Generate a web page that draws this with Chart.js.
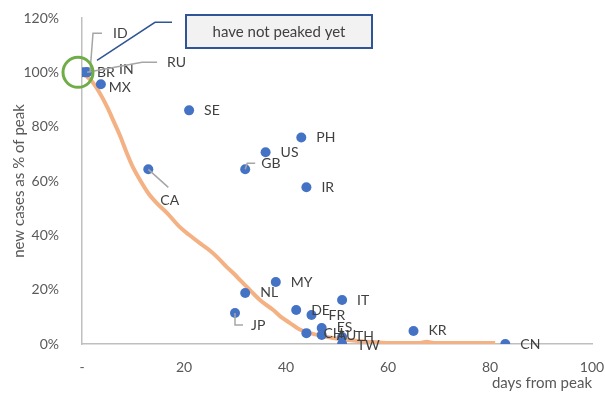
<!DOCTYPE html>
<html>
<head>
<meta charset="utf-8">
<script src="https://cdn.jsdelivr.net/npm/chart.js@4"></script>
<style>
  html, body { margin: 0; background: #fff; }
  #wrap { width: 605px; height: 394px; }
</style>
</head>
<body>
<div id="wrap"><canvas id="chart" width="605" height="394"></canvas></div>
<script>
// country points
const countries = ['ID', 'BR', 'IN', 'RU', 'MX', 'SE', 'PH', 'US', 'GB', 'IR', 'CA', 'MY', 'NL', 'JP', 'IT', 'DE', 'FR', 'ES', 'CH', 'AU', 'TH', 'TW', 'KR', 'CN'];
const daysFromPeak = [0, 0.6, 1, 1, 3.7, 21, 43, 36, 32, 44, 13, 38, 32, 30, 51, 42, 45, 47, 44, 47, 51, 51, 65, 83];
const pctOfPeak = [100, 100, 100, 100, 95.6, 86, 76, 70.6, 64.3, 57.7, 64.3, 22.8, 18.8, 11.4, 16.2, 12.5, 10.7, 5.9, 4, 3.3, 2.6, 0, 4.8, 0];

// average curve
const trendDays = [0, 2, 3.5, 5, 6.1, 7.5, 8.8, 10, 11.4, 13, 14.7, 16.7, 19.2, 21, 23.1, 25, 26.5, 28.4, 30, 31, 32.9, 35, 37.5, 39, 40.8, 42.5, 44.7, 47, 49.2, 52, 54.5, 57, 59.8, 63, 66, 67.6, 69, 72, 76, 81];
const trendPct = [100, 96.5, 92.3, 87, 82.4, 76.5, 70.2, 65, 60.3, 55.5, 51.8, 48.2, 43, 40.2, 37.1, 34.5, 32, 28.3, 25.5, 23.5, 19.9, 16, 12.5, 10, 7.7, 5.5, 4, 3, 2.2, 1.5, 1.1, 0.7, 0.4, 0.4, 0.4, 0.8, 0.4, 0.4, 0.4, 0.4];

// axis ticks
const xTicks = [0, 20, 40, 60, 80, 100];
const yTicks = [0, 20, 40, 60, 80, 100, 120];

const calloutText = 'have not peaked yet';

// label placement relative to each point (px), with optional leader line
const labelPos = {
  ID: { dx: 31, dy: -39, leader: [[8, 0], [11, -39], [20, -39]] },
  BR: { dx: 12, dy: 0 },
  IN: { dx: 32, dy: -3 },
  RU: { dx: 80, dy: -10, leader: [[0, 0], [55, -10], [70, -10]] },
  MX: { dx: 8, dy: 3 },
  GB: { dx: 16, dy: -6, leader: [[0, 0], [2, -6], [10, -6]] },
  CA: { dx: 12, dy: 31, leader: [[0, 0], [20, 18]] },
  JP: { dx: 16, dy: 12, leader: [[0, 0], [0, 12], [8, 12]] },
  FR: { dx: 17, dy: 1 },
  CH: { dx: 17, dy: 0 },
  TH: { dx: 13, dy: 0 },
  TW: { dx: 15, dy: 1 }
};

const FONT = 'Lato';

const pointLabels = {
  id: 'pointLabels',
  afterDatasetsDraw(chart) {
    const ctx = chart.ctx;
    const meta = chart.getDatasetMeta(1);
    ctx.save();
    ctx.font = '14px ' + FONT;
    ctx.textBaseline = 'middle';
    ctx.textAlign = 'left';
    meta.data.forEach((pt, i) => {
      const code = countries[i];
      const p = labelPos[code] || { dx: 15, dy: 0 };
      if (p.leader) {
        ctx.strokeStyle = '#A6A6A6';
        ctx.lineWidth = 1.5;
        ctx.beginPath();
        p.leader.forEach(([lx, ly], k) => {
          if (k === 0) ctx.moveTo(pt.x + lx, pt.y + ly);
          else ctx.lineTo(pt.x + lx, pt.y + ly);
        });
        ctx.stroke();
      }
      ctx.fillStyle = '#404040';
      ctx.fillText(code, pt.x + p.dx, pt.y + p.dy);
    });
    ctx.restore();
  },
  afterDraw(chart) {
    const ctx = chart.ctx;
    const { x, y } = chart.scales;
    const cx = x.getPixelForValue(0) - 4;
    const cy = y.getPixelForValue(100);
    ctx.save();
    // green ring
    ctx.strokeStyle = '#70AD47';
    ctx.lineWidth = 3;
    ctx.beginPath();
    ctx.arc(cx, cy, 15, 0, Math.PI * 2);
    ctx.stroke();
    // callout connector
    ctx.strokeStyle = '#2F5597';
    ctx.lineWidth = 1.5;
    ctx.beginPath();
    ctx.moveTo(cx + 19, cy - 12);
    ctx.lineTo(cx + 77, cy - 50);
    ctx.lineTo(cx + 94, cy - 50);
    ctx.stroke();
    // callout box
    ctx.fillStyle = '#F2F2F2';
    ctx.fillRect(186, 15, 186, 33);
    ctx.lineWidth = 2;
    ctx.strokeRect(186, 15, 186, 33);
    ctx.fillStyle = '#404040';
    ctx.font = '15px ' + FONT;
    ctx.textAlign = 'center';
    ctx.textBaseline = 'middle';
    ctx.fillText(calloutText, 279, 32);
    ctx.restore();
  }
};

new Chart(document.getElementById('chart'), {
  type: 'scatter',
  data: {
    datasets: [
      {
        type: 'line',
        data: trendDays.map((d, i) => ({ x: d, y: trendPct[i] })),
        borderColor: '#F4B183',
        borderWidth: 4,
        pointRadius: 0,
        cubicInterpolationMode: 'monotone',
        fill: false,
        order: 2
      },
      {
        data: daysFromPeak.map((d, i) => ({ x: d, y: pctOfPeak[i] })),
        backgroundColor: '#4472C4',
        borderColor: '#4472C4',
        borderWidth: 0,
        pointRadius: 5,
        order: 1
      }
    ]
  },
  options: {
    responsive: false,
    animation: false,
    layout: { autoPadding: false, padding: { top: 18, right: 13, left: 0, bottom: 0 } },
    plugins: { legend: { display: false }, tooltip: { enabled: false } },
    scales: {
      x: {
        type: 'linear',
        min: xTicks[0],
        max: xTicks[xTicks.length - 1],
        afterBuildTicks: s => { s.ticks = xTicks.map(v => ({ value: v })); },
        afterFit: s => { s.height = 50; s.paddingLeft = 0; s.paddingRight = 0; },
        grid: { display: false },
        border: { color: '#BFBFBF', width: 1.5 },
        ticks: {
          color: '#595959',
          font: { family: FONT, size: 14 },
          padding: 7,
          callback: v => v === 0 ? '-' : v
        },
        title: {
          display: true,
          text: 'days from peak',
          align: 'end',
          color: '#595959',
          font: { family: FONT, size: 15 },
          padding: { top: 0, bottom: 2 }
        }
      },
      y: {
        min: yTicks[0],
        max: yTicks[yTicks.length - 1],
        afterBuildTicks: s => { s.ticks = yTicks.map(v => ({ value: v })); },
        afterFit: s => { s.width = 82; s.paddingTop = 0; s.paddingBottom = 0; },
        grid: { display: false },
        border: { color: '#BFBFBF', width: 1.5 },
        ticks: {
          color: '#595959',
          font: { family: FONT, size: 14 },
          padding: 15,
          callback: v => v + '%'
        },
        title: {
          display: true,
          text: 'new cases as % of peak',
          color: '#595959',
          font: { family: FONT, size: 15 },
          padding: { top: 10, bottom: 0 }
        }
      }
    }
  },
  plugins: [pointLabels]
});
</script>
</body>
</html>
